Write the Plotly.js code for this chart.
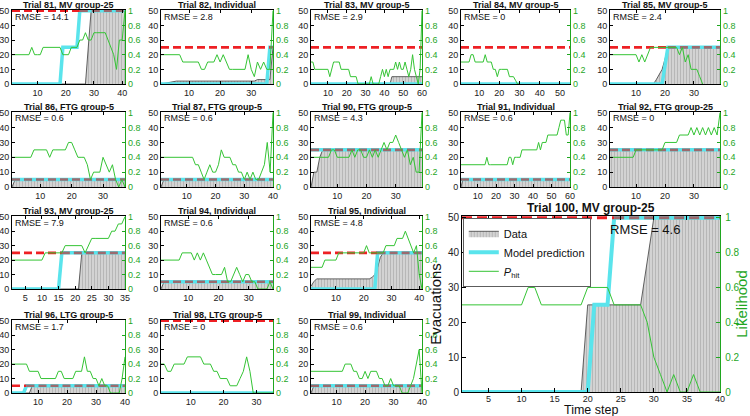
<!DOCTYPE html>
<html><head><meta charset="utf-8">
<script src="https://cdn.plot.ly/plotly-3.0.1.min.js"></script>
<style>html,body{margin:0;padding:0;background:#fff}#chart{width:750px;height:416px}</style>
</head><body><div id="chart"></div>
<script>
// ---------- chart values ----------
const trialIds     = [81,82,83,84,85,86,87,90,91,92,93,94,95,96,98,99,100];
const trialGroups  = ["MV group-25","Individual","MV group-5","MV group-5","MV group-5",
                      "FTG group-5","FTG group-5","FTG group-5","Individual","FTG group-25",
                      "MV group-25","Individual","Individual","LTG group-5","LTG group-5","Individual","MV group-25"];
const rmseValues   = [14.1,2.8,2.9,0,2.4,0.6,0.6,4.3,0.6,0,7.9,0.6,4.8,1.7,0,0.6,4.6];
const groupSizeLine= [50,25,25,25,25,5,5,25,5,25,25,5,25,5,50,5,50];
const stepCounts   = [41,37,60,55,39,37,40,39,60,39,35,38,41,40,35,40,40];

// evacuations (data) breakpoints: time step / count
const evacX81=[1,27,29,41], evacY81=[0,0,50,50];
const evacX82=[1,3,6,31,32,36,37], evacY82=[0,1,2,2,3,3,25];
const evacX83=[1,43,44,60], evacY83=[0,0,5,5];
const evacX84=[1,55], evacY84=[0,0];
const evacX85=[1,16,17,18,19,20,21,39], evacY85=[0,0,3,7,10,17,25,25];
const evacX86=[1,2,37], evacY86=[0,5,5];
const evacX87=[1,2,40], evacY87=[0,5,5];
const evacX90=[1,2,3,4,5,39], evacY90=[0,10,10,20,25,25];
const evacX91=[1,2,60], evacY91=[0,5,5];
const evacX92=[1,39], evacY92=[25,25];
const evacX93=[1,21,22,35], evacY93=[0,0,25,25];
const evacX94=[1,2,38], evacY94=[0,5,5];
const evacX95=[1,2,3,22,23,24,25,26,27,41], evacY95=[2,5,7,7,8,10,15,22,25,25];
const evacX96=[1,7,8,40], evacY96=[0,0,5,5];
const evacX98=[1,35], evacY98=[0,0];
const evacX99=[1,2,40], evacY99=[0,5,5];
const evacX100=[1,19,20,28,30,40], evacY100=[0,0,25,25,50,50];

// model prediction breakpoints
const modelX81=[1,18,19,24,25,41], modelY81=[0,0,25,25,50,50];
const modelX82=[1,35,36,37], modelY82=[0,0,25,25];
const modelX83=[1,60], modelY83=[0,0];
const modelX84=[1,55], modelY84=[0,0];
const modelX85=[1,19,21,39], modelY85=[0,0,25,25];
const modelX86=[1,37], modelY86=[5,5];
const modelX87=[1,40], modelY87=[5,5];
const modelX90=[1,39], modelY90=[25,25];
const modelX91=[1,60], modelY91=[5,5];
const modelX92=[1,39], modelY92=[25,25];
const modelX93=[1,15,16,35], modelY93=[0,0,25,25];
const modelX94=[1,38], modelY94=[5,5];
const modelX95=[1,24,25,41], modelY95=[0,0,25,25];
const modelX96=[1,5,6,40], modelY96=[0,0,5,5];
const modelX98=[1,35], modelY98=[0,0];
const modelX99=[1,40], modelY99=[5,5];
const modelX100=[1,20,21,23,24,40], modelY100=[0,0,25,25,50,50];

// P_hit per time step (starting at step 1)
const phit81=[0.4,0.4,0.4,0.4,0.4,0.4,0.4,0.5,0.4,0.4,0.4,0.5,0.5,0.5,0.5,0.5,0.5,0.5,0.4,0.4,0.4,0.5,0.5,0.5,0.6,0.6,0.7,0.6,0.6,0.7,0.7,0.7,0.7,0.7,0.6,0.5,0.4,0.2,0.6,0.6,1.0];
const phit82=[0.4,0.4,0.4,0.4,0.4,0.4,0.4,0.3,0.3,0.3,0.3,0.3,0.3,0.2,0.2,0.3,0.3,0.3,0.4,0.3,0.4,0.3,0.2,0.2,0.2,0.2,0.2,0.2,0.4,0.2,0.1,0.3,0.2,0.3,0.2,0.2,1.0];
const phit83=[0.3,0.3,0.2,0.2,0.2,0.2,0.2,0.2,0.2,0.2,0.1,0.2,0.3,0.3,0.3,0.3,0.2,0.2,0.2,0.2,0.2,0.1,0.1,0.1,0.1,0,0,0,0,0,0,0,0.1,0,0,0,0,0.1,0.2,0.1,0.2,0.1,0.2,0.2,0.2,0.3,0.2,0.3,0.2,0.2,0.3,0.2,0.1,0.2,0.4,0.2,0.1,0,0.2,1.0];
const phit84=[0.3,0.3,0.3,0.3,0.3,0.4,0.4,0.3,0.3,0.3,0.3,0.3,0.4,0.3,0.3,0.3,0.2,0.2,0.1,0.2,0.2,0.2,0.2,0.2,0.1,0.1,0.1,0.05,0,0];
const phit85=[0.4,0.4,0.4,0.4,0.4,0.4,0.4,0.4,0.4,0.4,0.3,0.4,0.3,0.4,0.5,0.5,0.5,0.5,0.5,0.5,0.5,0.5,0.5,0.5,0.4,0.5,0.3,0.4,0.2,0.2,0.2,0.1,0];
const phit86=[0.4,0.4,0.4,0.4,0.4,0.4,0.4,0.5,0.5,0.5,0.5,0.5,0.4,0.5,0.5,0.5,0.5,0.5,0.6,0.6,0.5,0.4,0.4,0.4,0.3,0.1,0.2,0.2,0.2,0.4,0.3,0.2,0.3,0.1,0,0.1,0];
const phit87=[0.4,0.4,0.4,0.4,0.4,0.4,0.4,0.4,0.4,0.4,0.4,0.4,0.3,0.3,0.2,0.1,0.2,0.3,0.2,0.2,0.3,0.5,0.4,0.4,0.4,0.3,0.3,0.2,0.2,0.1,0.2,0.1,0.2,0.1,0.1,0.2,0.3,0.6,0.2,1.0];
const phit90=[0.4,0.4,0.4,0.4,0.4,0.4,0.4,0.5,0.5,0.4,0.4,0.4,0.4,0.4,0.5,0.4,0.5,0.5,0.4,0.4,0.5,0.4,0.5,0.4,0.5,0.6,0.5,0.6,0.6,0.7,0.6,0.5,0.4,0.5,0.3,0.4,0.2,0.2,1.0];
const phit91=[0.3,0.3,0.3,0.3,0.3,0.3,0.3,0.3,0.3,0.3,0.3,0.3,0.3,0.3,0.4,0.3,0.3,0.3,0.3,0.3,0.3,0.3,0.3,0.3,0.3,0.3,0.4,0.4,0.3,0.4,0.4,0.4,0.4,0.5,0.5,0.5,0.5,0.5,0.5,0.5,0.5,0.5,0.6,0.5,0.6,0.6,0.6,0.7,0.7,0.7,0.7,0.7,0.7,0.8,0.9,0.9,0.9,0.7,0.7,1.0];
const phit92=[0.4,0.4,0.4,0.4,0.4,0.4,0.4,0.4,0.4,0.5,0.5,0.5,0.5,0.5,0.5,0.5,0.5,0.5,0.5,0.6,0.6,0.6,0.6,0.6,0.7,0.7,0.7,0.7,0.8,0.7,0.8,0.7,0.8,0.7,0.8,0.7,0.8,0.7,1.0];
const phit93=[0.4,0.4,0.4,0.4,0.4,0.4,0.4,0.4,0.4,0.4,0.5,0.5,0.5,0.5,0.5,0.5,0.6,0.6,0.6,0.6,0.6,0.6,0.5,0.6,0.7,0.7,0.7,0.7,0.7,0.7,0.8,0.8,0.9,0.9,1.0];
const phit94=[0.4,0.4,0.4,0.4,0.4,0.4,0.4,0.5,0.5,0.5,0.5,0.4,0.5,0.4,0.5,0.4,0.3,0.2,0.2,0.2,0.2,0.3,0.1,0.1,0.2,0.3,0.2,0.1,0.2,0.2,0.1,0.1,0,0,0,0,0.1,0];
const phit95=[0.3,0.3,0.3,0.3,0.3,0.4,0.4,0.4,0.4,0.4,0.5,0.5,0.5,0.5,0.5,0.5,0.5,0.5,0.5,0.5,0.6,0.5,0.5,0.5,0.5,0.5,0.5,0.6,0.6,0.6,0.6,0.7,0.7,0.7,0.8,0.7,0.6,0.5,0.6,0.2,0];
const phit96=[0.4,0.4,0.4,0.4,0.4,0.4,0.3,0.3,0.3,0.3,0.2,0.2,0.2,0.2,0.2,0.2,0.3,0.3,0.2,0.2,0.2,0.2,0.3,0.3,0.3,0.5,0.3,0.3,0.2,0.2,0.1,0.2,0.1,0.1,0,0,0,0,0.2,0.5];
const phit98=[0.4,0.4,0.3,0.3,0.4,0.4,0.4,0.4,0.5,0.5,0.5,0.5,0.5,0.4,0.4,0.4,0.3,0.3,0.2,0.2,0.2,0.1,0.1,0.1,0.2,0.3,0.5,0.3,0,0,0,0,0,0,0];
const phit99=[0.3,0.3,0.3,0.3,0.3,0.3,0.3,0.3,0.3,0.3,0.3,0.3,0.4,0.4,0.4,0.3,0.3,0.2,0.2,0.3,0.2,0.3,0.3,0.3,0.2,0.2,0.1,0.1,0.2,0.1,0.1,0.1,0,0,0,0.1,0.2,0.4,0.6,0];
const phit100=[0.5,0.5,0.5,0.5,0.5,0.5,0.5,0.5,0.5,0.5,0.6,0.6,0.5,0.5,0.5,0.5,0.5,0.5,0.5,0.6,0.6,0.6,0.6,0.5,0.5,0.5,0.5,0.5,0.4,0.2,0.1,0,0.1,0,0,0.1,0,0,0,0];

const evacXs=[evacX81,evacX82,evacX83,evacX84,evacX85,evacX86,evacX87,evacX90,evacX91,evacX92,evacX93,evacX94,evacX95,evacX96,evacX98,evacX99,evacX100];
const evacYs=[evacY81,evacY82,evacY83,evacY84,evacY85,evacY86,evacY87,evacY90,evacY91,evacY92,evacY93,evacY94,evacY95,evacY96,evacY98,evacY99,evacY100];
const modelXs=[modelX81,modelX82,modelX83,modelX84,modelX85,modelX86,modelX87,modelX90,modelX91,modelX92,modelX93,modelX94,modelX95,modelX96,modelX98,modelX99,modelX100];
const modelYs=[modelY81,modelY82,modelY83,modelY84,modelY85,modelY86,modelY87,modelY90,modelY91,modelY92,modelY93,modelY94,modelY95,modelY96,modelY98,modelY99,modelY100];
const phits=[phit81,phit82,phit83,phit84,phit85,phit86,phit87,phit90,phit91,phit92,phit93,phit94,phit95,phit96,phit98,phit99,phit100];

// ---------- layout geometry & styles ----------
const W=750,H=416;
const FONT='Liberation Sans, Arial, Helvetica, sans-serif';
const GREEN_LINE='#35c435', GREEN_AXIS='#1fa61f';
const CYAN='#5ae4ec', RED='#ee2024', RED_OVER='#9c6a6e';
const colL=[12,161,311,461,610], colR=[125,273,422,570,720];
const rowT=[10,112,216,320], rowB=[84,187,289,393];
const slots=[[0,0],[0,1],[0,2],[0,3],[0,4],[1,0],[1,1],[1,2],[1,3],[1,4],[2,0],[2,1],[2,2],[3,0],[3,1],[3,2]];
const bigBox=[462,720,216,392];
function box(i){ if(i===16) return bigBox; const [r,c]=slots[i]; return [colL[c],colR[c],rowT[r],rowB[r]]; }

const traces=[];
const layout={width:W,height:H,margin:{l:0,r:0,t:0,b:0},paper_bgcolor:'#fff',plot_bgcolor:'#fff',
  hovermode:false,showlegend:true,font:{family:FONT,size:9,color:'#222'},annotations:[],
  legend:{x:463/W,y:1-218/H,xanchor:'left',yanchor:'top',bgcolor:'#fff',bordercolor:'#333',borderwidth:0.8,
          font:{family:FONT,size:11,color:'#111'},tracegroupgap:0,itemwidth:30}};

for(let i=0;i<trialIds.length;i++){
  const big=(i===16);
  const n=i+1, yn=2*i+1, y2n=2*i+2;
  const xName=n===1?'xaxis':'xaxis'+n, xRef=n===1?'x':'x'+n;
  const yName=yn===1?'yaxis':'yaxis'+yn, yRef=yn===1?'y':'y'+yn;
  const y2Name='yaxis'+y2n, y2Ref='y'+y2n;
  const [L,R,T,B]=box(i);
  const steps=stepCounts[i];
  const tf={family:FONT,size:9,color:'#222'};
  layout[xName]={domain:[L/W,R/W],anchor:yRef,range:[1,steps],tick0:0,dtick:(trialIds[i]===93||big)?5:10,
    ticks:'inside',ticklen:big?4:3,tickcolor:'#000',showline:true,linecolor:'#000',linewidth:1,mirror:'ticks',
    showgrid:false,zeroline:false,tickfont:tf,fixedrange:true};
  if(big) layout[xName].ticklabelstandoff=-2;
  layout[yName]={domain:[1-B/H,1-T/H],anchor:xRef,range:[0,50.5],tickvals:[0,10,20,30,40,50],
    ticks:'inside',ticklen:big?4:3,tickcolor:'#000',showline:true,linecolor:'#000',linewidth:1,mirror:false,
    showgrid:false,zeroline:false,tickfont:{family:FONT,size:big?10:9,color:'#222'},fixedrange:true};
  layout[y2Name]={overlaying:yRef,anchor:xRef,side:'right',range:[0,1.01],tickvals:[0,0.2,0.4,0.6,0.8,1],
    ticktext:['0','0.2','0.4','0.6','0.8','1'],ticks:'inside',ticklen:big?4:3,tickcolor:GREEN_AXIS,
    showline:true,linecolor:GREEN_AXIS,linewidth:1.2,showgrid:false,zeroline:false,
    tickfont:{family:FONT,size:big?10:9,color:GREEN_AXIS},fixedrange:true};
  if(big){
    layout[y2Name].ticklabelstandoff=2;
    layout[yName].title={text:'Evacuations',font:{family:FONT,size:15,color:'#111'},standoff:2};
    layout[y2Name].title={text:'Likelihood',font:{family:FONT,size:15,color:GREEN_AXIS},standoff:0};
    layout.annotations.push({text:'Time step',xref:'paper',yref:'paper',x:(L+R)/2/W,y:-2/H,
      xanchor:'center',yanchor:'bottom',showarrow:false,borderpad:0,font:{family:FONT,size:12.5,color:'#111'}});
  }

  // data area
  traces.push({type:'scatter',mode:'lines',x:evacXs[i],y:evacYs[i],xaxis:xRef,yaxis:yRef,
    fill:'tozeroy',fillcolor:'#cdcdcd',
    fillpattern:{shape:'|',bgcolor:'#d3d3d3',fgcolor:'#b3b3b3',size:3,solidity:0.3},
    line:{color:'#3c3c3c',width:0.8},name:'Data',showlegend:big,hoverinfo:'skip'});
  // model prediction
  traces.push({type:'scatter',mode:'lines',x:modelXs[i],y:modelYs[i],xaxis:xRef,yaxis:yRef,
    line:{color:CYAN,width:big?4:3.5},name:'Model prediction',showlegend:big,hoverinfo:'skip'});
  // group size reference line: red where the model is below it, darker where the model lies on it
  const g=groupSizeLine[i];
  const mx=modelXs[i], my=modelYs[i];
  let reach=steps+1;
  for(let k=0;k<my.length;k++){ if(my[k]>=g){ reach=mx[k]; break; } }
  const dashStyle=big?'10px,5px':'8px,4px', dw=big?3:2.6;
  if(reach>1){
    traces.push({type:'scatter',mode:'lines',x:[1,Math.min(reach,steps)],y:[g,g],xaxis:xRef,yaxis:yRef,
      line:{color:RED,width:dw,dash:dashStyle},showlegend:false,hoverinfo:'skip'});
  }
  if(reach<=steps){
    traces.push({type:'scatter',mode:'lines',x:[reach,steps],y:[g,g],xaxis:xRef,yaxis:yRef,
      line:{color:RED_OVER,width:dw,dash:dashStyle},showlegend:false,hoverinfo:'skip'});
  }
  // P_hit
  const ph=phits[i];
  traces.push({type:'scatter',mode:'lines',x:ph.map((v,k)=>k+1),y:ph,xaxis:xRef,yaxis:y2Ref,
    line:{color:GREEN_LINE,width:1},name:'<i>P</i><sub>hit</sub>',showlegend:big,hoverinfo:'skip'});

  layout.annotations.push({text:`<b>Trial ${trialIds[i]}, ${trialGroups[i]}</b>`,xref:'paper',yref:'paper',
    x:(L+R)/2/W,y:1-(big?208:T-5.5)/H,xanchor:'center',yanchor:'middle',showarrow:false,borderpad:0,
    font:{family:FONT,size:big?12:9,color:'#111'}});
  if(big){
    layout.annotations.push({text:`RMSE = ${rmseValues[i]}`,xref:'paper',yref:'paper',x:609/W,y:1-229/H,
      xanchor:'left',yanchor:'middle',showarrow:false,borderpad:0,font:{family:FONT,size:13,color:'#111'}});
  } else {
    layout.annotations.push({text:`RMSE = ${rmseValues[i]}`,xref:'paper',yref:'paper',x:(L+2)/W,y:1-(T+6.5)/H,
      xanchor:'left',yanchor:'middle',showarrow:false,borderpad:0,font:{family:FONT,size:9,color:'#111'}});
  }
}

Plotly.newPlot('chart',traces,layout,{staticPlot:true,displayModeBar:false});
</script>
</body></html>
